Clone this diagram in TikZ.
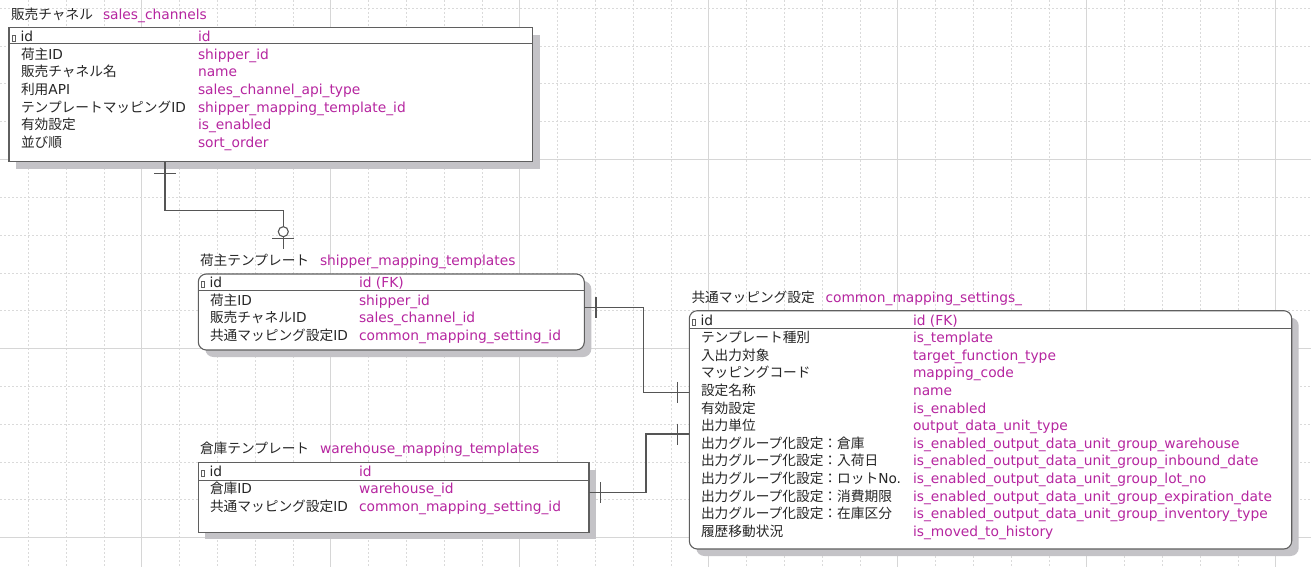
\documentclass[tikz,border=0pt]{standalone}
\usepackage{fontspec}
\setmainfont{Noto Sans CJK JP}
\newfontfamily\lat{DejaVu Sans}
\usetikzlibrary{calc,shadows}

\definecolor{gridsolid}{RGB}{214,214,214}
\definecolor{griddot}{RGB}{218,218,218}
\definecolor{framec}{RGB}{95,95,95}
\definecolor{shadowc}{RGB}{196,195,199}
\definecolor{colname}{RGB}{182,38,160}
\definecolor{txt}{RGB}{38,38,38}
\definecolor{relc}{RGB}{85,85,85}

\tikzset{
  every node/.style={font=\fontsize{13.7}{16}\selectfont, inner sep=0pt, outer sep=0pt},
  entity/.style={draw=framec, line width=1.1pt, fill=white, anchor=north west,
    drop shadow={shadow xshift=7pt, shadow yshift=-7pt, fill=shadowc, opacity=1}},
  roundent/.style={entity, rounded corners=8pt},
  jp/.style={anchor=base west, text=txt},
  en/.style={anchor=base west, text=colname, font=\fontsize{13.8}{16}\selectfont\lat},
  idtxt/.style={anchor=base west, text=txt, font=\fontsize{13.8}{16}\selectfont\lat},
  hsep/.style={draw=framec, line width=1pt},
  keyicon/.style={draw=framec, line width=0.6pt},
  rel/.style={draw=relc, line width=1.1pt},
  gdot/.style={draw=griddot, line width=0.8pt, dash pattern=on 2pt off 2pt},
  gsol/.style={draw=gridsolid, line width=1pt},
}

\begin{document}
\begin{tikzpicture}[x=1pt,y=-1pt]
\useasboundingbox (0,0) rectangle (1311,567);
\fill[white] (0,0) rectangle (1311,567);

% background grid: dotted every 37.8, solid every fifth line
\foreach \k in {0,...,33}{
  \pgfmathsetmacro\gx{28.3+37.8*\k}
  \pgfmathtruncatemacro\m{mod(\k+2,5)}
  \ifnum\m=0 \draw[gsol] (\gx,0) -- (\gx,567); \else \draw[gdot] (\gx,0) -- (\gx,567); \fi
}
\foreach \k in {0,...,14}{
  \pgfmathsetmacro\gy{8.3+37.8*\k}
  \pgfmathtruncatemacro\m{mod(\k+1,5)}
  \ifnum\m=0 \draw[gsol] (0,\gy) -- (1311,\gy); \else \draw[gdot] (0,\gy) -- (1311,\gy); \fi
}

% ---------- sales_channels ----------
\node[jp] (sc-t) at (11,19.3) {販売チャネル};
\node[en] (sc-tn) at (103,19.3) {sales\_channels};
\node[entity, minimum width=523.5pt, minimum height=134pt] (sc) at (9,27.7) {};
\draw[hsep] ($(sc.north west)+(0,16.1)$) -- ($(sc.north east)+(0,16.1)$);
\draw[keyicon] (12.3,35.3) rectangle (15.3,41.3);
\node[idtxt] (sc-k) at (20.5,41.5) {id};
\node[en] (sc-kc) at (198,41.5) {id};
\foreach \lab/\col [count=\i from 0] in {
  {荷主{\lat ID}}/{shipper\_id},
  {販売チャネル名}/{name},
  {利用{\lat API}}/{sales\_channel\_api\_type},
  {テンプレートマッピング{\lat ID}}/{shipper\_mapping\_template\_id},
  {有効設定}/{is\_enabled},
  {並び順}/{sort\_order}}{
  \node[jp] (sc-l\i) at (21,{59.3+17.6*\i}) {\lab};
  \node[en] (sc-c\i) at (198,{59.3+17.6*\i}) {\col};
}

% ---------- shipper_mapping_templates ----------
\node[jp] (smt-t) at (200,265.7) {荷主テンプレート};
\node[en] (smt-tn) at (320,265.7) {shipper\_mapping\_templates};
\node[roundent, minimum width=386pt, minimum height=76pt] (smt) at (198.3,274) {};
\draw[hsep] ($(smt.north west)+(0,16.7)$) -- ($(smt.north east)+(0,16.7)$);
\draw[keyicon] (201.5,281) rectangle (204.5,287);
\node[idtxt] (smt-k) at (209.5,287.3) {id};
\node[en] (smt-kc) at (359,287.3) {id (FK)};
\foreach \lab/\col [count=\i from 0] in {
  {荷主{\lat ID}}/{shipper\_id},
  {販売チャネル{\lat ID}}/{sales\_channel\_id},
  {共通マッピング設定{\lat ID}}/{common\_mapping\_setting\_id}}{
  \node[jp] (smt-l\i) at (210,{305+17.6*\i}) {\lab};
  \node[en] (smt-c\i) at (359,{305+17.6*\i}) {\col};
}

% ---------- warehouse_mapping_templates ----------
\node[jp] (wmt-t) at (200,453.5) {倉庫テンプレート};
\node[en] (wmt-tn) at (320,453.5) {warehouse\_mapping\_templates};
\node[entity, minimum width=390.7pt, minimum height=69.6pt] (wmt) at (198.3,462.7) {};
\draw[hsep] ($(wmt.north west)+(0,17.3)$) -- ($(wmt.north east)+(0,17.3)$);
\draw[keyicon] (201.5,470) rectangle (204.5,476);
\node[idtxt] (wmt-k) at (209.5,476) {id};
\node[en] (wmt-kc) at (359,476) {id};
\foreach \lab/\col [count=\i from 0] in {
  {倉庫{\lat ID}}/{warehouse\_id},
  {共通マッピング設定{\lat ID}}/{common\_mapping\_setting\_id}}{
  \node[jp] (wmt-l\i) at (210,{493.6+17.6*\i}) {\lab};
  \node[en] (wmt-c\i) at (359,{493.6+17.6*\i}) {\col};
}

% ---------- common_mapping_settings_ ----------
\node[jp] (cms-t) at (691.5,302.6) {共通マッピング設定};
\node[en] (cms-tn) at (825.5,302.6) {common\_mapping\_settings\_};
\node[roundent, minimum width=602.4pt, minimum height=238.3pt] (cms) at (689.3,310.7) {};
\draw[hsep] ($(cms.north west)+(0,17.6)$) -- ($(cms.north east)+(0,17.6)$);
\draw[keyicon] (692.5,319.5) rectangle (695.5,325.5);
\node[idtxt] (cms-k) at (700.5,325.5) {id};
\node[en] (cms-kc) at (913,325.5) {id (FK)};
\foreach \lab/\col [count=\i from 0] in {
  {テンプレート種別}/{is\_template},
  {入出力対象}/{target\_function\_type},
  {マッピングコード}/{mapping\_code},
  {設定名称}/{name},
  {有効設定}/{is\_enabled},
  {出力単位}/{output\_data\_unit\_type},
  {出力グループ化設定：倉庫}/{is\_enabled\_output\_data\_unit\_group\_warehouse},
  {出力グループ化設定：入荷日}/{is\_enabled\_output\_data\_unit\_group\_inbound\_date},
  {出力グループ化設定：ロット{\lat No.}}/{is\_enabled\_output\_data\_unit\_group\_lot\_no},
  {出力グループ化設定：消費期限}/{is\_enabled\_output\_data\_unit\_group\_expiration\_date},
  {出力グループ化設定：在庫区分}/{is\_enabled\_output\_data\_unit\_group\_inventory\_type},
  {履歴移動状況}/{is\_moved\_to\_history}}{
  \node[jp] (cms-l\i) at (701,{342.6+17.6*\i}) {\lab};
  \node[en] (cms-c\i) at (913,{342.6+17.6*\i}) {\col};
}

% ---------- relationships ----------
% sales_channels (one) -- shipper_mapping_templates (zero or one)
\coordinate (r1s) at ($(sc.south west)+(156,0)$);
\coordinate (r1e) at ($(smt.north west)+(85,-25)$);
\draw[rel] (r1s) -- ++(0,49) -| (r1e);
\draw[rel] ($(r1s)+(-11,11.6)$) -- ++(22,0);
\draw[rel] ($(r1e)+(-11,-10.7)$) -- ++(22,0);
\draw[rel, fill=white] ($(r1e)+(0,-17.3)$) circle (5pt);

% shipper_mapping_templates (one) -- common_mapping_settings_ (one)
\coordinate (r2s) at ($(smt.north east)+(0,33.3)$);
\coordinate (r2e) at ($(cms.north west)+(0,81.6)$);
\draw[rel] (r2s) -- ++(59,0) |- (r2e);
\draw[rel] ($(r2s)+(11.7,-10.5)$) -- ++(0,21);
\draw[rel] ($(r2e)+(-11.6,-10.5)$) -- ++(0,21);

% warehouse_mapping_templates (one) -- common_mapping_settings_ (one)
\coordinate (r3s) at ($(wmt.north east)+(0,30)$);
\coordinate (r3e) at ($(cms.north west)+(0,123.3)$);
\draw[rel] (r3s) -- ++(57,0) |- (r3e);
\draw[rel] ($(r3s)+(11.7,-10.5)$) -- ++(0,21);
\draw[rel] ($(r3e)+(-11.6,-10.5)$) -- ++(0,21);
\end{tikzpicture}
\end{document}
